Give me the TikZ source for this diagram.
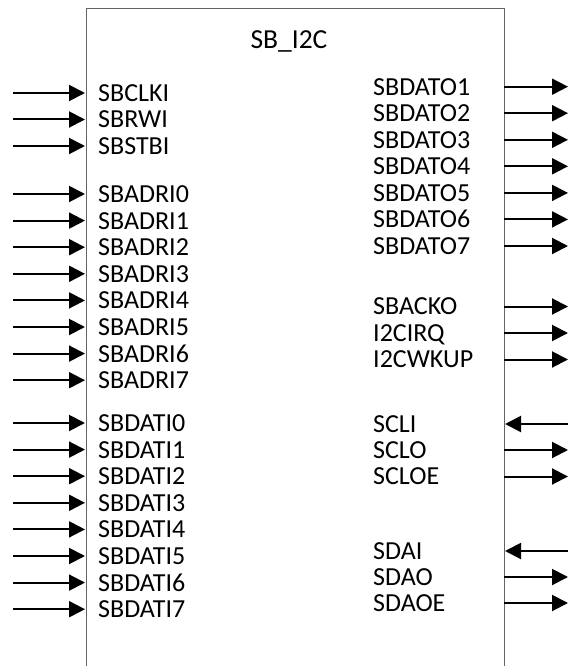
\documentclass[tikz,border=0pt]{standalone}
\usepackage{fontspec}
\setmainfont{Carlito}
\usetikzlibrary{arrows.meta}
\definecolor{boxgray}{RGB}{100,100,100}
\begin{document}
\begin{tikzpicture}[x=1pt,y=-1pt,
  pinarrow/.style={line width=2pt, -{Triangle[length=16pt,width=16pt]}},
  lbl/.style={anchor=base west, inner sep=0pt, font=\fontsize{26}{26}\selectfont},
  ttl/.style={anchor=base, inner sep=0pt, font=\fontsize{27.5}{27.5}\selectfont}]
\useasboundingbox (0,0) rectangle (568,666);
% block outline (open at the bottom edge of the picture)
\draw[draw=boxgray, line width=1pt] (86,667) -- (86,9) -- (504,9) -- (504,667);
\node[ttl] (title) at (289,48.4) {SB\_I2C};
% left side inputs
\foreach \nm/\yy in {SBCLKI/93, SBRWI/119.5, SBSTBI/146,
  SBADRI0/194, SBADRI1/220.6, SBADRI2/247.2, SBADRI3/273.8,
  SBADRI4/300.4, SBADRI5/327, SBADRI6/353.6, SBADRI7/380.2,
  SBDATI0/423, SBDATI1/449.6, SBDATI2/476.2, SBDATI3/502.8,
  SBDATI4/529.4, SBDATI5/556, SBDATI6/582.6, SBDATI7/609.2}{
  \node[lbl] (L\nm) at (98,\yy+8.4) {\nm};
  \coordinate (Ls\nm) at (13,\yy);
  \coordinate (Le\nm) at (85,\yy);
  \draw[pinarrow] (Ls\nm) -- (Le\nm);
}
% right side outputs
\foreach \nm/\yy in {SBDATO1/86.7, SBDATO2/113.2, SBDATO3/139.8, SBDATO4/166.3,
  SBDATO5/192.9, SBDATO6/219.4, SBDATO7/246,
  SBACKO/306.5, I2CIRQ/333, I2CWKUP/359.5,
  SCLO/450, SCLOE/476.5, SDAO/577, SDAOE/603}{
  \node[lbl] (R\nm) at (373,\yy+8.4) {\nm};
  \coordinate (Rs\nm) at (504,\yy);
  \coordinate (Re\nm) at (568,\yy);
  \draw[pinarrow] (Rs\nm) -- (Re\nm);
}
% right side inputs
\foreach \nm/\yy in {SCLI/424, SDAI/551}{
  \node[lbl] (R\nm) at (373,\yy+8.4) {\nm};
  \coordinate (Rs\nm) at (568,\yy);
  \coordinate (Re\nm) at (505,\yy);
  \draw[pinarrow] (Rs\nm) -- (Re\nm);
}
\end{tikzpicture}
\end{document}
